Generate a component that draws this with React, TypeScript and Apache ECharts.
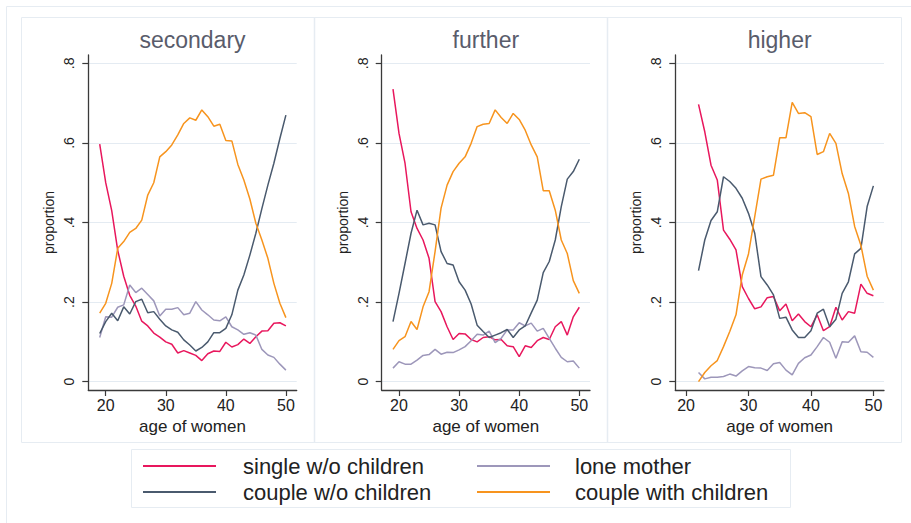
import React, { useEffect, useRef } from "react";
import * as echarts from "echarts";

const agesFrom19 = [19, 20, 21, 22, 23, 24, 25, 26, 27, 28, 29, 30, 31, 32, 33, 34, 35, 36, 37, 38, 39, 40, 41, 42, 43, 44, 45, 46, 47, 48, 49, 50];
const agesFrom22 = [22, 23, 24, 25, 26, 27, 28, 29, 30, 31, 32, 33, 34, 35, 36, 37, 38, 39, 40, 41, 42, 43, 44, 45, 46, 47, 48, 49, 50];

const panelTitles = ["secondary", "further", "higher"];
const seriesNames = ["single w/o children", "lone mother", "couple w/o children", "couple with children"];
const yTicks = [0, 0.2, 0.4, 0.6, 0.8];
const xTicks = [20, 30, 40, 50];

// secondary
const secSingle = [0.597, 0.5, 0.43, 0.33, 0.265, 0.217, 0.19, 0.152, 0.14, 0.122, 0.112, 0.1, 0.094, 0.072, 0.078, 0.072, 0.066, 0.053, 0.07, 0.077, 0.076, 0.099, 0.087, 0.093, 0.107, 0.096, 0.113, 0.127, 0.128, 0.147, 0.148, 0.14];
const secLone = [0.111, 0.163, 0.162, 0.187, 0.193, 0.243, 0.224, 0.235, 0.219, 0.203, 0.165, 0.182, 0.182, 0.186, 0.168, 0.172, 0.201, 0.18, 0.168, 0.155, 0.153, 0.163, 0.138, 0.13, 0.119, 0.123, 0.117, 0.081, 0.067, 0.061, 0.044, 0.029];
const secCouple = [0.121, 0.151, 0.172, 0.153, 0.188, 0.17, 0.201, 0.207, 0.173, 0.176, 0.157, 0.14, 0.13, 0.124, 0.105, 0.092, 0.077, 0.086, 0.1, 0.123, 0.123, 0.134, 0.168, 0.23, 0.268, 0.318, 0.373, 0.435, 0.494, 0.549, 0.611, 0.67];
const secWith = [0.172, 0.197, 0.247, 0.335, 0.352, 0.375, 0.385, 0.406, 0.469, 0.5, 0.565, 0.578, 0.595, 0.62, 0.649, 0.663, 0.657, 0.683, 0.666, 0.642, 0.647, 0.606, 0.605, 0.546, 0.507, 0.459, 0.398, 0.356, 0.31, 0.247, 0.197, 0.161];

// further
const furSingle = [0.735, 0.624, 0.549, 0.427, 0.385, 0.356, 0.31, 0.201, 0.176, 0.138, 0.106, 0.121, 0.12, 0.106, 0.1, 0.111, 0.113, 0.105, 0.106, 0.09, 0.088, 0.063, 0.09, 0.086, 0.103, 0.111, 0.106, 0.138, 0.151, 0.117, 0.163, 0.187];
const furLone = [0.034, 0.05, 0.044, 0.044, 0.054, 0.066, 0.068, 0.081, 0.069, 0.074, 0.073, 0.08, 0.088, 0.103, 0.119, 0.117, 0.127, 0.098, 0.109, 0.13, 0.13, 0.148, 0.14, 0.147, 0.127, 0.134, 0.109, 0.084, 0.061, 0.05, 0.052, 0.034];
const furCouple = [0.151, 0.222, 0.297, 0.373, 0.431, 0.394, 0.398, 0.394, 0.327, 0.297, 0.293, 0.251, 0.23, 0.195, 0.142, 0.126, 0.111, 0.117, 0.123, 0.131, 0.111, 0.13, 0.14, 0.173, 0.205, 0.274, 0.302, 0.356, 0.44, 0.509, 0.528, 0.559];
const furWith = [0.081, 0.103, 0.113, 0.151, 0.131, 0.188, 0.226, 0.327, 0.436, 0.494, 0.528, 0.549, 0.565, 0.599, 0.641, 0.647, 0.649, 0.683, 0.664, 0.649, 0.674, 0.659, 0.632, 0.595, 0.565, 0.48, 0.48, 0.431, 0.356, 0.322, 0.254, 0.222];

// higher
const higSingle = [0.697, 0.628, 0.544, 0.507, 0.381, 0.358, 0.331, 0.239, 0.209, 0.183, 0.188, 0.211, 0.214, 0.178, 0.195, 0.153, 0.17, 0.151, 0.138, 0.168, 0.128, 0.138, 0.187, 0.155, 0.176, 0.172, 0.245, 0.222, 0.216];
const higLone = [0.023, 0.007, 0.011, 0.011, 0.013, 0.019, 0.014, 0.027, 0.038, 0.035, 0.034, 0.028, 0.045, 0.048, 0.029, 0.017, 0.046, 0.06, 0.067, 0.088, 0.111, 0.099, 0.059, 0.1, 0.099, 0.115, 0.075, 0.074, 0.061];
const higCouple = [0.279, 0.356, 0.405, 0.427, 0.515, 0.503, 0.486, 0.461, 0.423, 0.373, 0.264, 0.243, 0.218, 0.159, 0.162, 0.13, 0.111, 0.111, 0.128, 0.172, 0.182, 0.138, 0.157, 0.222, 0.251, 0.321, 0.335, 0.44, 0.492];
const higWith = [0.0, 0.023, 0.04, 0.053, 0.088, 0.126, 0.168, 0.268, 0.321, 0.415, 0.509, 0.515, 0.519, 0.613, 0.613, 0.702, 0.674, 0.676, 0.666, 0.571, 0.578, 0.624, 0.599, 0.523, 0.473, 0.39, 0.343, 0.265, 0.23];

const colors = ["#e8175d", "#9d97ba", "#4a5a6e", "#f7941e"];

const panels = [
  { ages: agesFrom19, data: [secSingle, secLone, secCouple, secWith], left: 88.3, right: 614.3, xMin: 17.1, xMax: 51.8 },
  { ages: agesFrom19, data: [furSingle, furLone, furCouple, furWith], left: 381.7, right: 321, xMin: 17.12, xMax: 51.78 },
  { ages: agesFrom22, data: [higSingle, higLone, higCouple, higWith], left: 675.3, right: 27, xMin: 18.28, xMax: 51.7 },
];

const FONT = "Liberation Sans, Arial, sans-serif";
const AXIS_COLOR = "#3a3a3a";
const GRID_COLOR = "#e4ebf2";
const FRAME_COLOR = "#e6ecf2";

function fmtY(v: number) {
  if (Math.abs(v) < 1e-9) return "0";
  return String(Math.round(v * 10) / 10).replace(/^0\./, ".");
}

export default function App() {
  const ref = useRef<HTMLDivElement>(null);
  useEffect(() => {
    if (!ref.current) return;
    const chart = echarts.init(ref.current, undefined, { renderer: "svg" });
    const grids: any[] = [];
    const xAxes: any[] = [];
    const yAxes: any[] = [];
    const series: any[] = [];
    const titles: any[] = [];
    panels.forEach((p, i) => {
      grids.push({ left: p.left, right: p.right, top: 55, height: 335, containLabel: false });
      titles.push({
        text: panelTitles[i],
        left: p.left + (911 - p.right - p.left) / 2,
        textAlign: "center",
        top: 28,
        padding: 0,
        textStyle: { fontFamily: FONT, fontSize: 23, fontWeight: "normal", color: "#595c6b" },
      });
      xAxes.push({
        type: "value",
        gridIndex: i,
        min: p.xMin,
        max: p.xMax,
        name: "age of women",
        nameLocation: "middle",
        nameGap: 20,
        nameTextStyle: { fontFamily: FONT, fontSize: 17, color: "#222", verticalAlign: "top" },
        axisLine: { show: true, onZero: false, lineStyle: { color: AXIS_COLOR, width: 1.3 } },
        axisTick: { show: true, length: 6, customValues: xTicks, lineStyle: { color: AXIS_COLOR, width: 1.2 } },
        axisLabel: { customValues: xTicks, margin: 7, fontFamily: FONT, fontSize: 16, color: "#222" },
        splitLine: { show: false },
      });
      yAxes.push({
        type: "value",
        gridIndex: i,
        min: -0.021,
        max: 0.821,
        name: "proportion",
        nameLocation: "middle",
        nameGap: 32,
        nameTextStyle: { fontFamily: FONT, fontSize: 14, color: "#222" },
        axisLine: { show: true, onZero: false, lineStyle: { color: AXIS_COLOR, width: 1.3 } },
        axisTick: { show: true, length: 6, customValues: yTicks, lineStyle: { color: AXIS_COLOR, width: 1.2 } },
        axisLabel: { customValues: yTicks, rotate: 90, margin: 12, fontFamily: FONT, fontSize: 14, color: "#222", formatter: fmtY },
        splitLine: { show: true, lineStyle: { color: GRID_COLOR, width: 1 } },
      });
      p.data.forEach((vals, k) => {
        series.push({
          type: "line",
          name: seriesNames[k],
          xAxisIndex: i,
          yAxisIndex: i,
          data: p.ages.map((a, j) => [a, vals[j]]),
          showSymbol: false,
          symbol: "none",
          silent: true,
          color: colors[k],
          itemStyle: { color: colors[k] },
          lineStyle: { color: colors[k], width: 1.5 },
        });
      });
    });

    const legendPos = [
      { name: seriesNames[0], left: 143, top: 455, pad: 22 },
      { name: seriesNames[1], left: 477, top: 455, pad: 20 },
      { name: seriesNames[2], left: 143, top: 481, pad: 22 },
      { name: seriesNames[3], left: 477, top: 481, pad: 20 },
    ];
    const legends = legendPos.map((l) => ({
      data: [l.name],
      left: l.left,
      top: l.top,
      padding: 0,
      orient: "horizontal",
      icon: "rect",
      itemWidth: 73,
      itemHeight: 2,
      selectedMode: false,
      textStyle: { fontFamily: FONT, fontSize: 22, color: "#222", padding: [0, 0, 0, l.pad] },
    }));

    chart.setOption({
      animation: false,
      backgroundColor: "#ffffff",
      title: titles,
      grid: grids,
      xAxis: xAxes,
      yAxis: yAxes,
      series,
      legend: legends,
      graphic: [
        { type: "rect", silent: true, z: -10, shape: { x: 6.5, y: 6.5, width: 930, height: 540 }, style: { fill: "none", stroke: FRAME_COLOR, lineWidth: 1 } },
        { type: "rect", silent: true, z: -10, shape: { x: 21.5, y: 17.5, width: 880, height: 425 }, style: { fill: "none", stroke: FRAME_COLOR, lineWidth: 1 } },
        { type: "line", silent: true, z: -10, shape: { x1: 314.5, y1: 17.5, x2: 314.5, y2: 442.5 }, style: { stroke: FRAME_COLOR, lineWidth: 1.5 } },
        { type: "line", silent: true, z: -10, shape: { x1: 607.5, y1: 17.5, x2: 607.5, y2: 442.5 }, style: { stroke: FRAME_COLOR, lineWidth: 1.5 } },
        { type: "rect", silent: true, z: -10, shape: { x: 131.5, y: 449.5, width: 659, height: 58 }, style: { fill: "none", stroke: FRAME_COLOR, lineWidth: 1 } },
      ],
    });
    return () => chart.dispose();
  }, []);
  return <div ref={ref} style={{ position: "fixed", left: 0, top: 0, width: 911, height: 523, background: "#fff" }} />;
}
